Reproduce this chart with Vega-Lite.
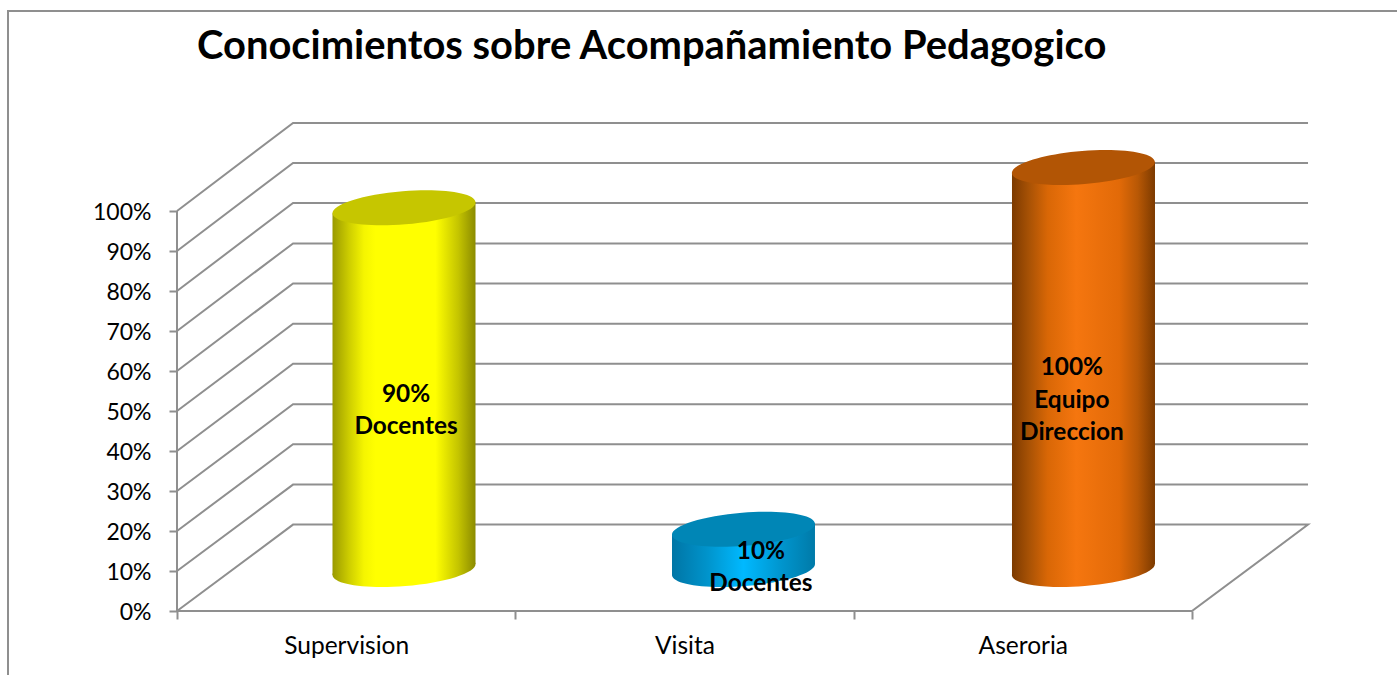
{
"$schema":"https://vega.github.io/schema/vega-lite/v6.json",
"width":1132,"height":488,"autosize":"none",
"padding":{"left":177,"top":123,"right":88,"bottom":64},
"background":"white",
"config":{"view":{"stroke":null},"font":"Lato"},
"title":{"text":"Conocimientos sobre Acompañamiento Pedagogico","anchor":"start","frame":"group","dx":20,"offset":-60,"fontSize":39.9,"fontWeight":"bold","font":"Lato","color":"#000000"},
"datasets":{
"lineas":[
{"s":"marco","o":1,"x":-0.4995,"y":-16},{"s":"marco","o":2,"x":-0.4995,"y":150},{"s":"marco","o":3,"x":3.606,"y":150},
{"s":"eje","o":1,"x":0,"y":0},{"s":"eje","o":2,"x":0,"y":100},
{"s":"n0","o":1,"x":0,"y":0},{"s":"n0","o":2,"x":0.343,"y":21.6},{"s":"n0","o":3,"x":3.343,"y":21.6},{"s":"n0","o":4,"x":3,"y":0},{"s":"n0","o":5,"x":0,"y":0},
{"s":"n10","o":1,"x":0,"y":10},{"s":"n10","o":2,"x":0.343,"y":31.6},{"s":"n10","o":3,"x":3.343,"y":31.6},
{"s":"n20","o":1,"x":0,"y":20},{"s":"n20","o":2,"x":0.343,"y":41.7},{"s":"n20","o":3,"x":3.343,"y":41.7},
{"s":"n30","o":1,"x":0,"y":30},{"s":"n30","o":2,"x":0.343,"y":51.7},{"s":"n30","o":3,"x":3.343,"y":51.7},
{"s":"n40","o":1,"x":0,"y":40},{"s":"n40","o":2,"x":0.343,"y":61.8},{"s":"n40","o":3,"x":3.343,"y":61.8},
{"s":"n50","o":1,"x":0,"y":50},{"s":"n50","o":2,"x":0.343,"y":71.8},{"s":"n50","o":3,"x":3.343,"y":71.8},
{"s":"n60","o":1,"x":0,"y":60},{"s":"n60","o":2,"x":0.343,"y":81.9},{"s":"n60","o":3,"x":3.343,"y":81.9},
{"s":"n70","o":1,"x":0,"y":70},{"s":"n70","o":2,"x":0.343,"y":91.9},{"s":"n70","o":3,"x":3.343,"y":91.9},
{"s":"n80","o":1,"x":0,"y":80},{"s":"n80","o":2,"x":0.343,"y":102},{"s":"n80","o":3,"x":3.343,"y":102},
{"s":"n90","o":1,"x":0,"y":90},{"s":"n90","o":2,"x":0.343,"y":112},{"s":"n90","o":3,"x":3.343,"y":112},
{"s":"n100","o":1,"x":0,"y":100},{"s":"n100","o":2,"x":0.343,"y":122},{"s":"n100","o":3,"x":3.343,"y":122}
],
"cilindros":[
{"categoria":"Supervision","valor":90,"centro":0.671},
{"categoria":"Visita","valor":10,"centro":1.6744},
{"categoria":"Aseroria","valor":100,"centro":2.679}
],
"cuerpos":[
{"categoria":"Supervision","x":0.4596,"base":-1.37,"tope":88.63},
{"categoria":"Supervision","x":0.8823,"base":1.37,"tope":91.37},
{"categoria":"Visita","x":1.4631,"base":-1.37,"tope":8.63},
{"categoria":"Visita","x":1.8857,"base":1.37,"tope":11.37},
{"categoria":"Aseroria","x":2.468,"base":-1.37,"tope":98.63},
{"categoria":"Aseroria","x":2.8907,"base":1.37,"tope":101.37}
],
"rotulos":[
{"texto":["90%","Docentes"],"x":0.677,"y":54.1},
{"texto":["10%","Docentes"],"x":1.726,"y":14.85},
{"texto":["100%","Equipo","Direccion"],"x":2.645,"y":60.75}
]
},
"resolve":{"scale":{"x":"independent","y":"independent"},"axis":{"x":"independent","y":"independent"}},
"layer":[
{
"data":{"name":"lineas"},
"mark":{"type":"line","color":"#8f8f8f","strokeWidth":2,"clip":false},
"encoding":{
"x":{"field":"x","type":"quantitative","scale":{"domain":[0,3.3459],"nice":false,"zero":false},
"axis":{"values":[0,0.5,1,1.5,2,2.5,3],"title":null,"grid":false,"domain":false,"tickSize":8,"tickWidth":2,"tickColor":"#8f8f8f","tickOpacity":{"condition":{"test":"datum.value % 1 !== 0","value":0},"value":1},"labelExpr":"datum.value==0.5?'Supervision':datum.value==1.5?'Visita':datum.value==2.5?'Aseroria':''","labelFontSize":24.5,"labelFont":"Lato","labelColor":"#000000","labelPadding":15,"labelOverlap":false,"labelFlush":false}},
"y":{"field":"y","type":"quantitative","scale":{"domain":[0,122],"nice":false,"zero":false},
"axis":{"values":[0,10,20,30,40,50,60,70,80,90,100],"title":null,"grid":false,"domain":false,"tickSize":8,"tickWidth":2,"tickColor":"#8f8f8f","labelExpr":"datum.value+'%'","labelFontSize":23,"labelFont":"Lato","labelColor":"#000000","labelPadding":18,"labelOffset":1,"labelOverlap":false,"labelFlush":false}},
"detail":{"field":"s"},
"order":{"field":"o","type":"quantitative"}
}
},
{
"encoding":{},
"layer":[
{"data":{"name":"cilindros"},"transform":[{"filter":"datum.categoria=='Supervision'"}],
"mark":{"type":"point","filled":true,"opacity":1,"size":20449,"strokeWidth":0,"shape":"M -1 0.0813 A 1.003 0.232 -4.65 1 1 1 -0.0813 A 1.003 0.232 -4.65 1 1 -1 0.0813 Z","fill":{"gradient":"linear","x1":0,"x2":1,"y1":0,"y2":0,"stops":[{"offset":0,"color":"#9a9a00"},{"offset":0.12,"color":"#cfcf00"},{"offset":0.22,"color":"#f5f500"},{"offset":0.3,"color":"#ffff00"},{"offset":0.72,"color":"#ffff00"},{"offset":0.88,"color":"#c4c400"},{"offset":1,"color":"#8b8b00"}]}},
"encoding":{"x":{"field":"centro","type":"quantitative","scale":{"domain":[0,3.3459],"nice":false,"zero":false},"axis":null},"y":{"datum":0,"type":"quantitative","scale":{"domain":[-10.32,111.07],"nice":false,"zero":false},"axis":null}}},
{"data":{"name":"cilindros"},"transform":[{"filter":"datum.categoria=='Visita'"}],
"mark":{"type":"point","filled":true,"opacity":1,"size":20449,"strokeWidth":0,"shape":"M -1 0.0813 A 1.003 0.232 -4.65 1 1 1 -0.0813 A 1.003 0.232 -4.65 1 1 -1 0.0813 Z","fill":{"gradient":"linear","x1":0,"x2":1,"y1":0,"y2":0,"stops":[{"offset":0,"color":"#0075a5"},{"offset":0.25,"color":"#0094cc"},{"offset":0.5,"color":"#00b9ff"},{"offset":0.75,"color":"#0097d0"},{"offset":1,"color":"#007aa8"}]}},
"encoding":{"x":{"field":"centro","type":"quantitative","scale":{"domain":[0,3.3459],"nice":false,"zero":false},"axis":null},"y":{"datum":0,"type":"quantitative","scale":{"domain":[-10.32,111.07],"nice":false,"zero":false},"axis":null}}},
{"data":{"name":"cilindros"},"transform":[{"filter":"datum.categoria=='Aseroria'"}],
"mark":{"type":"point","filled":true,"opacity":1,"size":20449,"strokeWidth":0,"shape":"M -1 0.0813 A 1.003 0.232 -4.65 1 1 1 -0.0813 A 1.003 0.232 -4.65 1 1 -1 0.0813 Z","fill":{"gradient":"linear","x1":0,"x2":1,"y1":0,"y2":0,"stops":[{"offset":0,"color":"#7c3a00"},{"offset":0.12,"color":"#a85205"},{"offset":0.25,"color":"#d96706"},{"offset":0.45,"color":"#f5760f"},{"offset":0.75,"color":"#e26a08"},{"offset":0.88,"color":"#b85805"},{"offset":1,"color":"#7c3a00"}]}},
"encoding":{"x":{"field":"centro","type":"quantitative","scale":{"domain":[0,3.3459],"nice":false,"zero":false},"axis":null},"y":{"datum":0,"type":"quantitative","scale":{"domain":[-10.32,111.07],"nice":false,"zero":false},"axis":null}}},
{"data":{"name":"cuerpos"},"transform":[{"filter":"datum.categoria=='Supervision'"}],
"mark":{"type":"area","orient":"vertical","opacity":1,"fill":{"gradient":"linear","x1":0,"x2":1,"y1":0,"y2":0,"stops":[{"offset":0,"color":"#9a9a00"},{"offset":0.12,"color":"#cfcf00"},{"offset":0.22,"color":"#f5f500"},{"offset":0.3,"color":"#ffff00"},{"offset":0.72,"color":"#ffff00"},{"offset":0.88,"color":"#c4c400"},{"offset":1,"color":"#8b8b00"}]}},
"encoding":{"x":{"field":"x","type":"quantitative","scale":{"domain":[0,3.3459],"nice":false,"zero":false},"axis":null},"y":{"field":"base","type":"quantitative","scale":{"domain":[-10.32,111.07],"nice":false,"zero":false},"axis":null},"y2":{"field":"tope"}}},
{"data":{"name":"cuerpos"},"transform":[{"filter":"datum.categoria=='Visita'"}],
"mark":{"type":"area","orient":"vertical","opacity":1,"fill":{"gradient":"linear","x1":0,"x2":1,"y1":0,"y2":0,"stops":[{"offset":0,"color":"#0075a5"},{"offset":0.25,"color":"#0094cc"},{"offset":0.5,"color":"#00b9ff"},{"offset":0.75,"color":"#0097d0"},{"offset":1,"color":"#007aa8"}]}},
"encoding":{"x":{"field":"x","type":"quantitative","scale":{"domain":[0,3.3459],"nice":false,"zero":false},"axis":null},"y":{"field":"base","type":"quantitative","scale":{"domain":[-10.32,111.07],"nice":false,"zero":false},"axis":null},"y2":{"field":"tope"}}},
{"data":{"name":"cuerpos"},"transform":[{"filter":"datum.categoria=='Aseroria'"}],
"mark":{"type":"area","orient":"vertical","opacity":1,"fill":{"gradient":"linear","x1":0,"x2":1,"y1":0,"y2":0,"stops":[{"offset":0,"color":"#7c3a00"},{"offset":0.12,"color":"#a85205"},{"offset":0.25,"color":"#d96706"},{"offset":0.45,"color":"#f5760f"},{"offset":0.75,"color":"#e26a08"},{"offset":0.88,"color":"#b85805"},{"offset":1,"color":"#7c3a00"}]}},
"encoding":{"x":{"field":"x","type":"quantitative","scale":{"domain":[0,3.3459],"nice":false,"zero":false},"axis":null},"y":{"field":"base","type":"quantitative","scale":{"domain":[-10.32,111.07],"nice":false,"zero":false},"axis":null},"y2":{"field":"tope"}}},
{"data":{"name":"cilindros"},
"mark":{"type":"point","filled":true,"opacity":1,"size":20449,"strokeWidth":0,"shape":"M -1 0.0813 A 1.003 0.232 -4.65 1 1 1 -0.0813 A 1.003 0.232 -4.65 1 1 -1 0.0813 Z"},
"encoding":{"x":{"field":"centro","type":"quantitative","scale":{"domain":[0,3.3459],"nice":false,"zero":false},"axis":null},"y":{"field":"valor","type":"quantitative","scale":{"domain":[-10.32,111.07],"nice":false,"zero":false},"axis":null},
"color":{"field":"categoria","type":"nominal","legend":null,"scale":{"domain":["Supervision","Visita","Aseroria"],"range":["#c6c600","#0086b6","#b25505"]}}}}
]
},
{
"data":{"name":"rotulos"},
"mark":{"type":"text","font":"Lato","fontWeight":"bold","fontSize":24.4,"lineHeight":32.5,"color":"#000000","align":"center","baseline":"middle"},
"encoding":{"x":{"field":"x","type":"quantitative","scale":{"domain":[0,3.3459],"nice":false,"zero":false},"axis":null},"y":{"field":"y","type":"quantitative","scale":{"domain":[0,122],"nice":false,"zero":false},"axis":null},"text":{"field":"texto"}}
}
]
}
